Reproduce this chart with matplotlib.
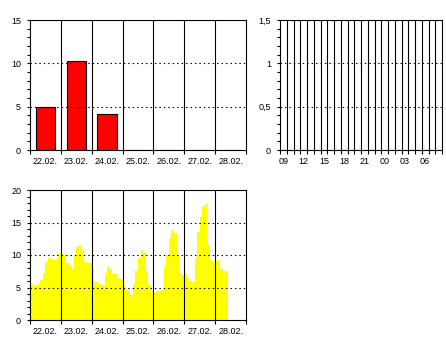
import matplotlib
matplotlib.use('Agg')
import matplotlib.pyplot as plt
from matplotlib.ticker import FixedLocator, MultipleLocator, NullFormatter
import numpy as np

plt.rcParams['font.family'] = ['Liberation Sans', 'DejaVu Sans']
plt.rcParams['font.size'] = 6.5

# daily totals (top left)
days = ['22.02.', '23.02.', '24.02.', '25.02.', '26.02.', '27.02.', '28.02.']
daily_vals = [5.0, 10.3, 4.2, 0, 0, 0, 0]

# last 24 hours (top right), all zero
hours = ['09', '10', '11', '12', '13', '14', '15', '16', '17', '18', '19', '20',
         '21', '22', '23', '00', '01', '02', '03', '04', '05', '06', '07', '08']
hourly_vals = [0] * 24

# 2-hour values from 22.02. 00:00 (bottom)
day1 = [5.5, 5.3, 5.4, 5.5, 6.2, 7.3, 8.9, 9.5, 9.2, 9.2, 9.4, 10.1]
day2 = [10.2, 10.0, 8.8, 8.4, 7.9, 9.8, 11.2, 11.5, 10.6, 8.9, 8.8, 8.8]
day3 = [8.0, 5.8, 5.7, 5.6, 5.4, 7.3, 8.1, 7.8, 7.1, 7.1, 6.5, 6.3]
day4 = [5.2, 4.6, 4.5, 3.9, 5.6, 7.6, 9.5, 10.7, 10.3, 7.6, 5.4, 4.3]
day5 = [4.2, 4.4, 4.4, 4.6, 8.2, 10.0, 12.6, 13.8, 13.4, 9.8, 7.3, 7.0]
day6 = [7.1, 6.5, 6.0, 5.8, 9.5, 13.5, 15.8, 17.4, 17.8, 11.5, 9.2, 8.8]
day7 = [9.1, 9.2, 7.9, 7.2, 7.5]
series = day1 + day2 + day3 + day4 + day5 + day6 + day7

W, H = 446, 340
fig = plt.figure(figsize=(W / 100, H / 100), dpi=100)


def box(l, t, r, b):
    return [l / W, 1 - b / H, (r - l) / W, (b - t) / H]


def style(ax, yticks, yminor, ylabels):
    for s in ax.spines.values():
        s.set_linewidth(0.8)
        s.set_color('black')
    ax.set_yticks(yticks)
    ax.set_yticklabels(ylabels)
    ax.yaxis.set_minor_locator(MultipleLocator(yminor))
    ax.set_ylim(0, yticks[-1])
    ax.tick_params(axis='y', which='both', direction='out', length=2.4, width=0.8, pad=4)
    for v in yticks[1:-1]:
        ax.axhline(v, color='black', lw=0.8, ls=(0, (1.3, 2.7)), zorder=5)


# ---- top left: daily bars
ax1 = fig.add_axes(box(30, 20, 246, 150))
x_day = np.arange(len(days)) + 0.5
ax1.bar(x_day, daily_vals, width=0.63, color='#ff0000', edgecolor='black', linewidth=0.8, zorder=3)
ax1.set_xlim(0, len(days))
style(ax1, [0, 5, 10, 15], 1, ['0', '5', '10', '15'])
ax1.xaxis.set_major_locator(FixedLocator(np.arange(len(days) + 1)))
ax1.xaxis.set_major_formatter(NullFormatter())
ax1.xaxis.set_minor_locator(FixedLocator(x_day))
ax1.set_xticklabels(days, minor=True)
ax1.tick_params(axis='x', which='major', direction='out', length=3, width=0.8)
ax1.tick_params(axis='x', which='minor', length=0, pad=5)
for d in range(1, len(days)):
    ax1.axvline(d, color='black', lw=0.8, zorder=4)

# ---- top right: last 24 hours
ax2 = fig.add_axes(box(280, 20, 442, 150))
x_hr = np.arange(len(hours)) + 0.5
ax2.bar(x_hr, hourly_vals, width=0.6, color='#ff0000', edgecolor='black', linewidth=0.8, zorder=3)
ax2.set_xlim(0, len(hours))
style(ax2, [0, 0.5, 1, 1.5], 0.1, ['0', '0,5', '1', '1,5'])
ax2.xaxis.set_major_locator(FixedLocator(np.arange(len(hours) + 1)))
ax2.xaxis.set_major_formatter(NullFormatter())
ax2.xaxis.set_minor_locator(FixedLocator(x_hr[::3]))
ax2.set_xticklabels(hours[::3], minor=True)
ax2.tick_params(axis='x', which='major', direction='out', length=3, width=0.8)
ax2.tick_params(axis='x', which='minor', length=0, pad=5)
for h in range(1, len(hours)):
    ax2.axvline(h, color='black', lw=0.8, zorder=4)

# ---- bottom: 2-hourly area
ax3 = fig.add_axes(box(30, 190, 246, 320))
x_edges = np.arange(len(series) + 1) * 2
ax3.fill_between(x_edges, series + [series[-1]], step='post', color='#ffff00', lw=0, zorder=2)
ax3.set_xlim(0, 24 * len(days))
style(ax3, [0, 5, 10, 15, 20], 1, ['0', '5', '10', '15', '20'])
ax3.xaxis.set_major_locator(FixedLocator(np.arange(len(days) + 1) * 24))
ax3.xaxis.set_major_formatter(NullFormatter())
ax3.xaxis.set_minor_locator(FixedLocator(x_day * 24))
ax3.set_xticklabels(days, minor=True)
ax3.tick_params(axis='x', which='major', direction='out', length=3, width=0.8)
ax3.tick_params(axis='x', which='minor', length=0, pad=5)
for d in range(1, len(days)):
    ax3.axvline(d * 24, color='black', lw=0.8, zorder=4)

fig.savefig('out.png', dpi=100)
